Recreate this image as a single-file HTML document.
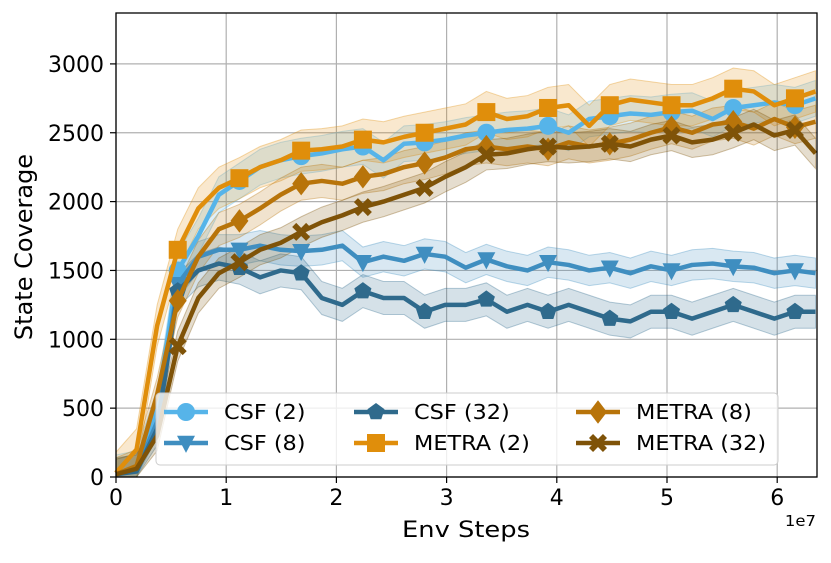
<!DOCTYPE html>
<html><head><meta charset="utf-8"><style>
body{margin:0;background:#fff;}
svg text{font-family:"DejaVu Sans","Liberation Sans",sans-serif;}
</style></head><body>
<svg id="chart" width="831" height="558" xmlns="http://www.w3.org/2000/svg">
<g id="grid"></g>
<g id="bands"></g>
<g id="lines"></g>
<rect x="116" y="13" width="701" height="464" fill="none" stroke="#000" stroke-width="1.3"/>
<g id="ticks"></g>
<text transform="translate(32,247) rotate(-90)" text-anchor="middle" font-size="24">State Coverage</text>
<text transform="translate(466,537) scale(1.17,1)" text-anchor="middle" font-size="22">Env Steps</text>
<text transform="translate(816,526) scale(1.1,1)" text-anchor="end" font-size="15">1e7</text>
<g id="legend"></g>
</svg>
<script>
const xTicks=[0,1,2,3,4,5,6];
const yTicks=[0,500,1000,1500,2000,2500,3000];
const seriesNames=["CSF (2)","CSF (8)","CSF (32)","METRA (2)","METRA (8)","METRA (32)"];
const csf2=[30,60,500,1500,1750,2050,2150,2250,2300,2330,2350,2380,2400,2300,2420,2430,2450,2480,2500,2520,2530,2550,2500,2600,2620,2640,2630,2650,2660,2600,2680,2700,2720,2700,2750];
const csf8=[20,50,400,1400,1600,1650,1650,1680,1650,1640,1650,1680,1560,1600,1570,1620,1600,1520,1580,1530,1500,1560,1540,1500,1520,1480,1530,1500,1540,1550,1530,1520,1480,1500,1480];
const csf32=[20,40,350,1350,1500,1550,1520,1450,1500,1480,1300,1250,1350,1300,1300,1200,1250,1250,1290,1200,1250,1200,1250,1200,1150,1130,1200,1200,1150,1200,1250,1200,1150,1200,1200];
const metra2=[30,200,1100,1650,1950,2100,2170,2250,2300,2370,2380,2400,2450,2430,2470,2500,2530,2560,2650,2600,2620,2680,2700,2550,2700,2740,2720,2700,2700,2750,2820,2800,2700,2750,2800];
const metra8=[20,80,600,1280,1600,1800,1860,1950,2050,2130,2150,2130,2180,2200,2250,2280,2320,2380,2400,2380,2400,2380,2430,2400,2420,2450,2500,2540,2500,2560,2580,2530,2600,2540,2580];
const metra32=[20,60,300,950,1300,1480,1560,1650,1700,1780,1850,1900,1960,2000,2050,2100,2180,2250,2340,2350,2380,2400,2390,2400,2420,2400,2450,2480,2430,2450,2500,2560,2480,2520,2350];
const bandWidths=[130,110,120,150,120,110];
const stepSize=0.1867; // x step between samples, in 1e7 units
const X=v=>116+v*110.2;
const Y=v=>477-v*0.1377;
const NS="http://www.w3.org/2000/svg";
function mk(tag,attrs,parent){const e=document.createElementNS(NS,tag);for(const k in attrs)e.setAttribute(k,attrs[k]);parent.appendChild(e);return e;}
const grid=document.getElementById('grid'),ticks=document.getElementById('ticks');
xTicks.forEach(t=>{
 const l=mk('line',{x1:X(t),x2:X(t),y1:13,y2:477,stroke:'#b0b0b0','stroke-width':1.2},grid);
 
 
 mk('line',{x1:X(t),x2:X(t),y1:477,y2:483,stroke:'#000','stroke-width':1.2},ticks);
 const tx=mk('text',{x:X(t),y:505,'text-anchor':'middle','font-size':22},ticks);tx.textContent=t;
 
 
});
yTicks.forEach(t=>{
 const l=mk('line',{x1:116,x2:817,y1:Y(t),y2:Y(t),stroke:'#b0b0b0','stroke-width':1.2},grid);
 
 
 mk('line',{x1:110,x2:116,y1:Y(t),y2:Y(t),stroke:'#000','stroke-width':1.2},ticks);
 const tx=mk('text',{x:104,y:Y(t)+8,'text-anchor':'end','font-size':22},ticks);tx.textContent=t;
 
 
});
const data=[csf2,csf8,csf32,metra2,metra8,metra32];
const colors=["#56b4e9","#3f8ec0","#2f6a8c","#e08e0b","#b8740a","#7f5308"];
const markers=["circle","tri","pent","square","diamond","x"];
function marker(type,cx,cy,r,col,parent){
 let e;
 if(type==="circle") e=mk('circle',{cx,cy,r:r,fill:col},parent);
 else if(type==="square") e=mk('rect',{x:cx-r,y:cy-r,width:2*r,height:2*r,fill:col},parent);
 else {
  let pts=[];
  if(type==="tri") pts=[[-r,-r*0.8],[r,-r*0.8],[0,r*1.1]];
  else if(type==="pent") for(let k=0;k<5;k++){const a=-Math.PI/2+k*2*Math.PI/5;pts.push([r*Math.cos(a),r*Math.sin(a)]);}
  else if(type==="diamond") pts=[[0,-r*1.3],[r,0],[0,r*1.3],[-r,0]];
  else {const a=r*0.45,b=r;pts=[[-b,-b+a],[-b+a,-b],[0,-a],[b-a,-b],[b,-b+a],[a,0],[b,b-a],[b-a,b],[0,a],[-b+a,b],[-b,b-a],[-a,0]];}
  e=mk('polygon',{points:pts.map(p=>(cx+p[0])+','+(cy+p[1])).join(' '),fill:col},parent);
 }
 return e;
}
const bands=document.getElementById('bands'),lines=document.getElementById('lines');
data.forEach((arr,si)=>{
 const top=arr.map((v,i)=>X(i*stepSize)+','+Y(Math.min(v+bandWidths[si],3400)));
 const bot=arr.map((v,i)=>X(i*stepSize)+','+Y(Math.max(v-bandWidths[si],0))).reverse();
 const b=mk('polygon',{points:top.concat(bot).join(' '),fill:colors[si],'fill-opacity':0.2,stroke:colors[si],'stroke-opacity':0.35},bands);
 
 
});
data.forEach((arr,si)=>{
 const p=mk('polyline',{points:arr.map((v,i)=>X(i*stepSize)+','+Y(v)).join(' '),fill:'none',stroke:colors[si],'stroke-width':4.5,'stroke-linejoin':'round'},lines);
 
 
 arr.forEach((v,i)=>{ if(i>0&&i%3===0){
  const m=marker(markers[si],X(i*stepSize),Y(v),9,colors[si],lines);
  
  
 }});
});
const lg=document.getElementById('legend');
const box=mk('rect',{x:156,y:393,width:622,height:72,rx:4,fill:'#fff','fill-opacity':0.8,stroke:'#ccc'},lg);


const colX=[164,354,576];
seriesNames.forEach((n,si)=>{
 const col=Math.floor(si/2),row=si%2;
 const x=colX[col],y=412+row*31;
 const g=mk('g',{},lg);
 
 
 mk('line',{x1:x,x2:x+44,y1:y,y2:y,stroke:colors[si],'stroke-width':4.5},g);
 marker(markers[si],x+22,y,9,colors[si],g);
 const t=mk('text',{transform:'translate('+(x+60)+','+(y+7)+') scale(1.12,1)','font-size':20},g);t.textContent=n;
});
</script>
</body></html>
